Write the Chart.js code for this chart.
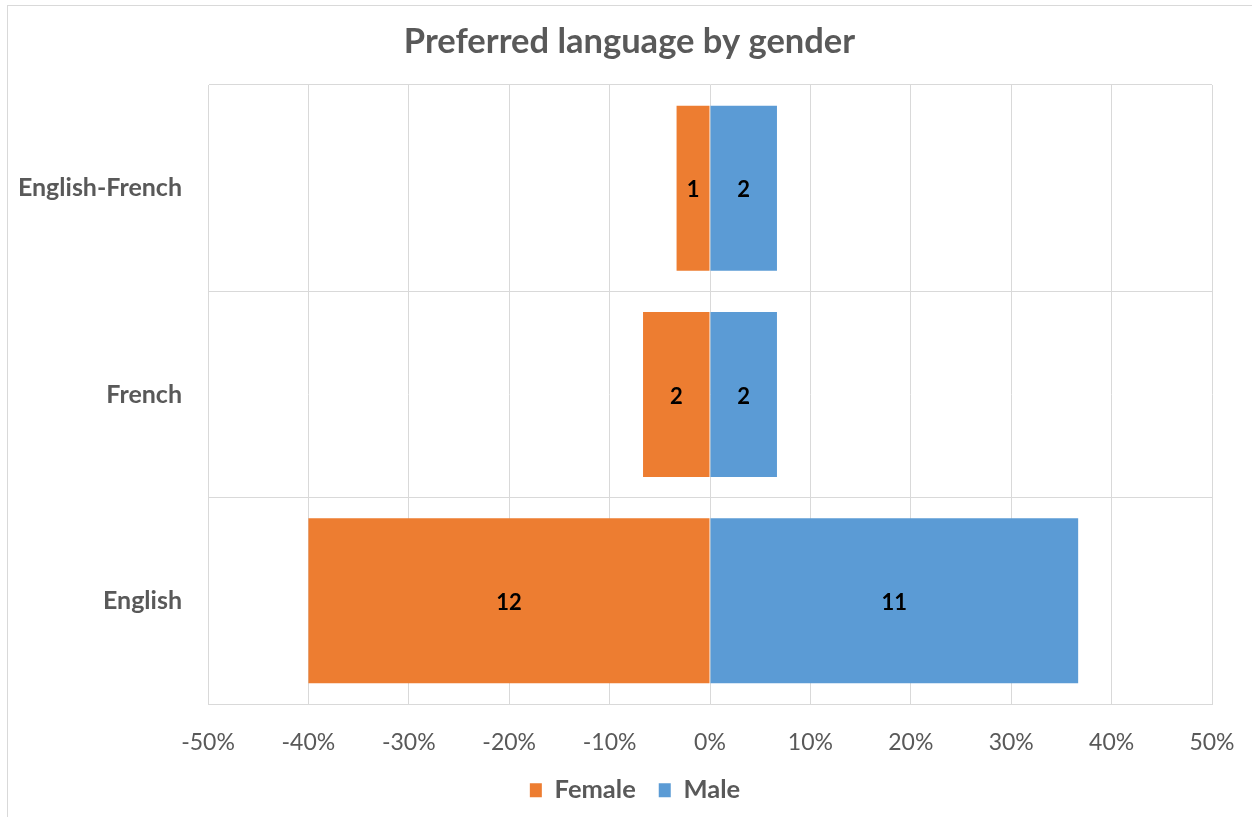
<!DOCTYPE html>
<html lang="en">
<head>
    <meta charset="UTF-8">
    <title>Preferred language by gender</title>
    <script src="https://cdn.jsdelivr.net/npm/chart.js"></script>
    <style>
        body { margin: 0; background: #fff; }
        canvas { display: block; }
    </style>
</head>
<body>
    <canvas id="chart" width="1252" height="817"></canvas>

    <script>
        // data (percent of all respondents, counts shown on bars)
        const languages = ['English-French', 'French', 'English'];
        const femalePct = [-3.33, -6.67, -40];
        const malePct = [6.67, 6.67, 36.67];
        const femaleCounts = [1, 2, 12];
        const maleCounts = [2, 2, 11];
        const tickValues = [-50, -40, -30, -20, -10, 0, 10, 20, 30, 40, 50];

        const grey = '#595959';
        const gridColor = '#d9d9d9';
        const font = 'Lato, "Open Sans", sans-serif';
        const titleText = 'Preferred language by gender';

        // counts written in the middle of each bar
        const barLabels = {
            id: 'barLabels',
            afterDatasetsDraw(chart) {
                const ctx = chart.ctx;
                const counts = [femaleCounts, maleCounts];
                ctx.save();
                ctx.font = 'bold 22px ' + font;
                ctx.fillStyle = '#000';
                ctx.textAlign = 'center';
                ctx.textBaseline = 'middle';
                chart.data.datasets.forEach((ds, i) => {
                    chart.getDatasetMeta(i).data.forEach((bar, j) => {
                        const p = bar.getCenterPoint();
                        ctx.fillText(counts[i][j], p.x, p.y + 2);
                    });
                });
                ctx.restore();
            }
        };

        // frame round the whole chart + title centred on the canvas
        const frame = {
            id: 'frame',
            beforeDraw(chart) {
                const ctx = chart.ctx;
                ctx.save();
                ctx.strokeStyle = gridColor;
                ctx.lineWidth = 1;
                ctx.strokeRect(7.5, 5.5, chart.width + 20, chart.height + 20);
                ctx.restore();
            },
            afterDraw(chart) {
                const ctx = chart.ctx;
                ctx.save();
                ctx.font = 'bold 34.5px ' + font;
                ctx.fillStyle = grey;
                ctx.textAlign = 'center';
                ctx.textBaseline = 'middle';
                ctx.fillText(titleText, 629.5, 42);
                ctx.restore();
            }
        };

        const bottomPad = 4;

        new Chart(document.getElementById('chart'), {
            type: 'bar',
            data: {
                labels: languages,
                datasets: [
                    { label: 'Female', data: femalePct, backgroundColor: '#ED7D31' },
                    { label: 'Male', data: malePct, backgroundColor: '#5B9BD5' }
                ]
            },
            options: {
                indexAxis: 'y',
                responsive: false,
                animation: false,
                barPercentage: 0.8,
                categoryPercentage: 1,
                // left padding only moves the legend's centre; the y axis makes up the rest
                layout: { padding: { left: 18, right: 0, top: 85, bottom: bottomPad } },
                scales: {
                    x: {
                        stacked: true,
                        min: -50,
                        max: 50,
                        afterBuildTicks(scale) {
                            scale.ticks = tickValues.map(v => ({ value: v }));
                        },
                        afterFit(scale) {
                            scale.height = 817 - 704 - bottomPad - scale.chart.legend.height;
                            scale.paddingRight = 40;
                        },
                        // invisible tick marks push the labels down without widening the side padding
                        grid: { color: gridColor, drawTicks: true, tickLength: 25, tickColor: 'rgba(0,0,0,0)' },
                        border: { color: gridColor },
                        ticks: {
                            padding: 0,
                            color: grey,
                            font: { family: font, size: 23 },
                            callback: v => v + '%'
                        }
                    },
                    y: {
                        stacked: true,
                        afterFit(scale) { scale.width = 190; },
                        grid: { color: gridColor, drawTicks: false },
                        border: { color: gridColor },
                        ticks: {
                            padding: 26,
                            color: grey,
                            font: { family: font, size: 25, weight: 'bold' }
                        }
                    }
                },
                plugins: {
                    title: { display: false },
                    legend: {
                        position: 'bottom',
                        labels: {
                            color: grey,
                            font: { family: font, size: 25.5, weight: 'bold' },
                            boxWidth: 12,
                            boxHeight: 14,
                            padding: 23
                        }
                    },
                    tooltip: { enabled: false }
                }
            },
            plugins: [barLabels, frame]
        });
    </script>
</body>
</html>
